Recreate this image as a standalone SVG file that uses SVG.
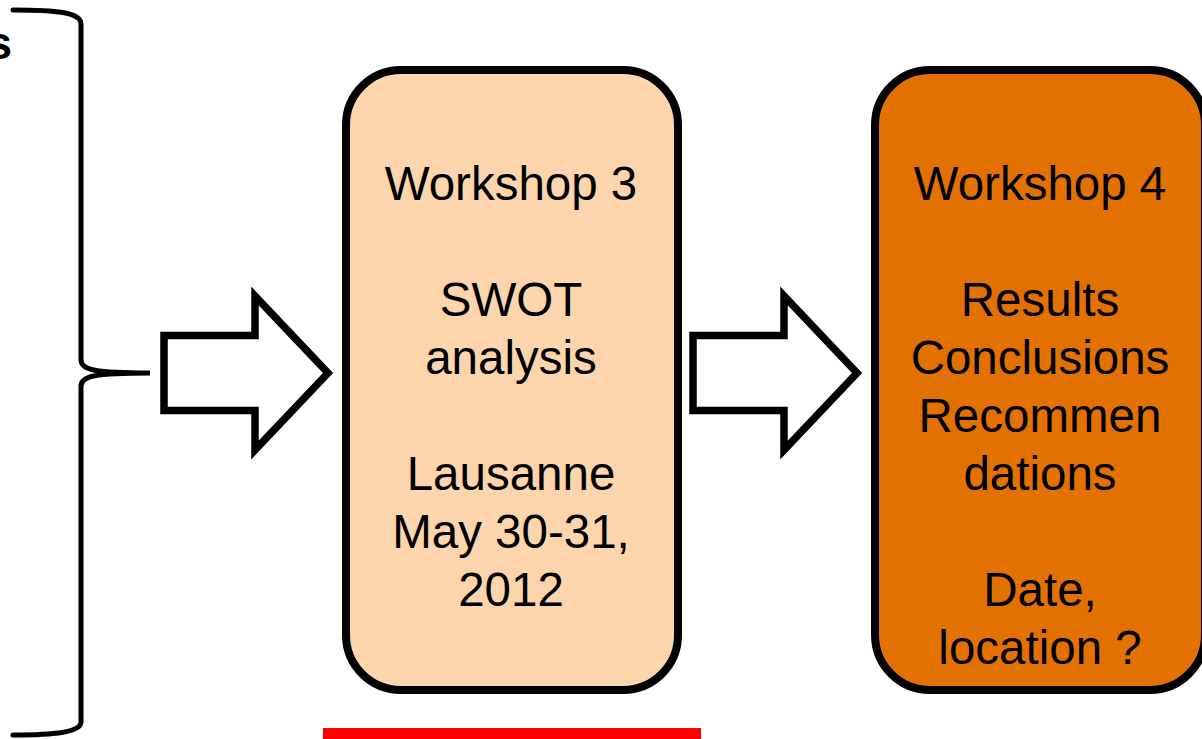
<svg xmlns="http://www.w3.org/2000/svg" width="1202" height="739" viewBox="0 0 1202 739">
<style>
  .t { font-family: "Liberation Sans", Arial, sans-serif; font-size: 47.5px; fill: #000; text-anchor: middle; }
  .box { stroke: #000; stroke-width: 8; }
  .arrow { fill: #fff; stroke: #000; stroke-width: 7.5; stroke-linejoin: miter; stroke-miterlimit: 10; }
  .brace { fill: none; stroke: #000; stroke-width: 5; stroke-linecap: round; }
</style>
<rect width="1202" height="739" fill="#fff"/>
<text x="12" y="59" style="font-family:'Liberation Sans', Arial, sans-serif; font-size:46px; font-weight:bold; text-anchor:end">s</text>
<g id="connectors">
  <path class="brace" d="M13,10 C55,10 81,12 81,24 L81,360 C81,370 95,373 150,373 C95,373 81,376 81,386 L81,722 C81,732 55,735 13,735"/>
  <polygon class="arrow" points="164,335.5 255,335.5 255,296 328,373 255,450 255,410.5 164,410.5"/>
  <polygon class="arrow" points="693,335.5 784,335.5 784,296 857,373 784,450 784,410.5 693,410.5"/>
</g>
<g id="workshop3">
  <rect class="box" x="346" y="70" width="332" height="620" rx="55" ry="55" fill="#FDD5AC"/>
  <text class="t" x="511" y="200">Workshop 3</text>
  <text class="t" x="511" y="316">SWOT</text>
  <text class="t" x="511" y="374">analysis</text>
  <text class="t" x="511" y="490">Lausanne</text>
  <text class="t" x="511" y="548">May 30-31,</text>
  <text class="t" x="511" y="606">2012</text>
</g>
<g id="workshop4">
  <rect class="box" x="875" y="70" width="330" height="620" rx="55" ry="55" fill="#E37101"/>
  <text class="t" x="1040" y="200">Workshop 4</text>
  <text class="t" x="1040" y="316">Results</text>
  <text class="t" x="1040" y="374">Conclusions</text>
  <text class="t" x="1040" y="432">Recommen</text>
  <text class="t" x="1040" y="490">dations</text>
  <text class="t" x="1040" y="606">Date,</text>
  <text class="t" x="1040" y="664">location ?</text>
</g>
<rect id="redbar" x="323" y="728" width="378" height="11" fill="#FF0000"/>
</svg>
